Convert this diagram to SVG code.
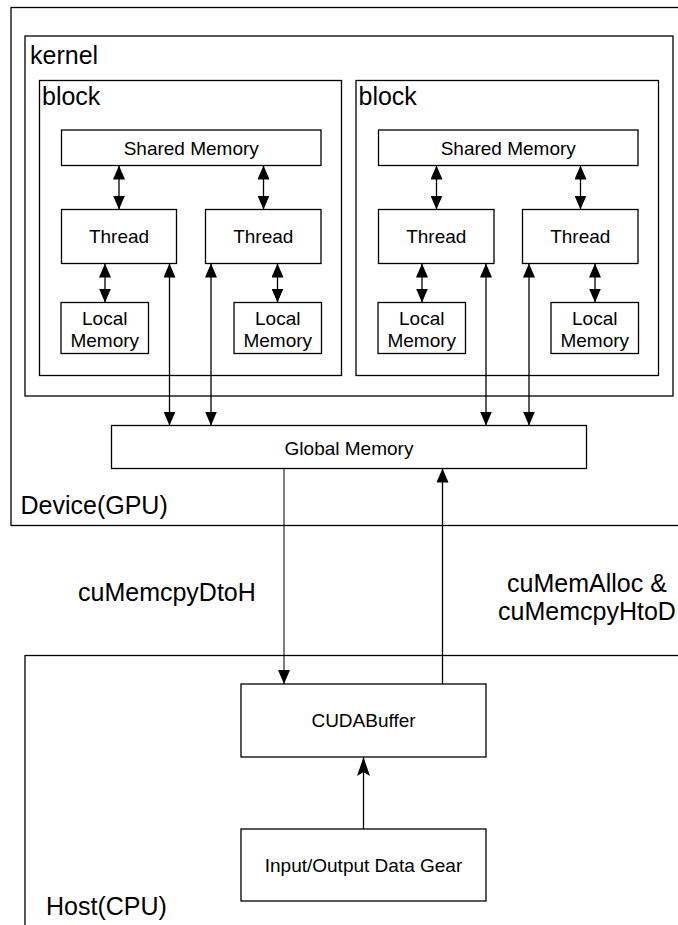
<svg xmlns="http://www.w3.org/2000/svg" width="678" height="925" viewBox="0 0 678 925">
<style>
  .box{fill:#fff;stroke:#000;stroke-width:1.3}
  .frame{fill:none;stroke:#000;stroke-width:1.3}
  .big{font-family:"Liberation Sans",Arial,Helvetica,sans-serif;font-size:25px;fill:#000}
  .lbl{font-family:"Liberation Sans",Arial,Helvetica,sans-serif;font-size:19px;fill:#000;text-anchor:middle}
  .edge{fill:none;stroke:#000;stroke-width:1.3}
  .thin{fill:none;stroke:#000;stroke-width:1}
</style>
<defs>
  <marker id="tri" markerUnits="userSpaceOnUse" markerWidth="14" markerHeight="12" refX="14" refY="6" orient="auto-start-reverse" viewBox="0 0 14 12">
    <path d="M0,0 L14,6 L0,12 z" fill="#000"/>
  </marker>
  <marker id="classic" markerUnits="userSpaceOnUse" markerWidth="19" markerHeight="13" refX="19" refY="6.5" orient="auto" viewBox="0 0 19 13">
    <path d="M0,0 L19,6.5 L0,13 L4,6.5 z" fill="#000"/>
  </marker>
</defs>
<rect width="678" height="925" fill="#fff"/>

<g id="device">
  <rect class="frame" x="11" y="7.5" width="680" height="518"/>
  <text class="big" x="20.5" y="514">Device(GPU)</text>
</g>
<g id="kernel">
  <rect class="frame" x="25" y="36" width="648" height="360"/>
  <text class="big" x="30" y="64">kernel</text>
</g>
<g id="block1">
  <rect class="frame" x="39.5" y="80.5" width="302" height="295"/>
  <text class="big" x="42" y="105">block</text>
</g>
<g id="block2">
  <rect class="frame" x="356" y="80.5" width="302.5" height="295"/>
  <text class="big" x="358.5" y="105">block</text>
</g>
<g id="host">
  <rect class="frame" x="25" y="655.5" width="670" height="290"/>
  <text class="big" x="46" y="915">Host(CPU)</text>
</g>

<g id="shared1"><rect class="box" x="61.5" y="130" width="259.5" height="35.5"/><text class="lbl" x="191.25" y="155">Shared Memory</text></g>
<g id="thread1a"><rect class="box" x="61.5" y="209.5" width="115" height="54"/><text class="lbl" x="119" y="243.3">Thread</text></g>
<g id="thread1b"><rect class="box" x="205.5" y="209.5" width="115.5" height="54"/><text class="lbl" x="263.3" y="243.3">Thread</text></g>
<g id="local1a"><rect class="box" x="61" y="302.5" width="87.5" height="51"/><text class="lbl" x="104.75" y="325">Local</text><text class="lbl" x="104.75" y="346.5">Memory</text></g>
<g id="local1b"><rect class="box" x="234" y="302.5" width="87.5" height="51"/><text class="lbl" x="277.75" y="325">Local</text><text class="lbl" x="277.75" y="346.5">Memory</text></g>

<g id="shared2"><rect class="box" x="378.5" y="130" width="259.5" height="35.5"/><text class="lbl" x="508.25" y="155">Shared Memory</text></g>
<g id="thread2a"><rect class="box" x="378.5" y="209.5" width="115.5" height="54"/><text class="lbl" x="436.25" y="243.3">Thread</text></g>
<g id="thread2b"><rect class="box" x="522.5" y="209.5" width="115.5" height="54"/><text class="lbl" x="580.25" y="243.3">Thread</text></g>
<g id="local2a"><rect class="box" x="378" y="302.5" width="87.5" height="51"/><text class="lbl" x="421.75" y="325">Local</text><text class="lbl" x="421.75" y="346.5">Memory</text></g>
<g id="local2b"><rect class="box" x="551" y="302.5" width="87.5" height="51"/><text class="lbl" x="594.75" y="325">Local</text><text class="lbl" x="594.75" y="346.5">Memory</text></g>

<g id="global"><rect class="box" x="111.5" y="425.5" width="475" height="43"/><text class="lbl" x="349" y="455">Global Memory</text></g>
<g id="cudabuffer"><rect class="box" x="241" y="684" width="245" height="73"/><text class="lbl" x="363.5" y="727.3">CUDABuffer</text></g>
<g id="iodata"><rect class="box" x="241" y="829" width="245" height="72"/><text class="lbl" x="363.5" y="872">Input/Output Data Gear</text></g>

<g id="connectors">
  <line class="edge" x1="119" y1="165.5" x2="119" y2="209.5" marker-start="url(#tri)" marker-end="url(#tri)"/>
  <line class="edge" x1="263.5" y1="165.5" x2="263.5" y2="209.5" marker-start="url(#tri)" marker-end="url(#tri)"/>
  <line class="edge" x1="105" y1="263.5" x2="105" y2="302.5" marker-start="url(#tri)" marker-end="url(#tri)"/>
  <line class="edge" x1="277.5" y1="263.5" x2="277.5" y2="302.5" marker-start="url(#tri)" marker-end="url(#tri)"/>
  <line class="edge" x1="436.5" y1="165.5" x2="436.5" y2="209.5" marker-start="url(#tri)" marker-end="url(#tri)"/>
  <line class="edge" x1="580.5" y1="165.5" x2="580.5" y2="209.5" marker-start="url(#tri)" marker-end="url(#tri)"/>
  <line class="edge" x1="422" y1="263.5" x2="422" y2="302.5" marker-start="url(#tri)" marker-end="url(#tri)"/>
  <line class="edge" x1="595" y1="263.5" x2="595" y2="302.5" marker-start="url(#tri)" marker-end="url(#tri)"/>
  <line class="edge" x1="169.5" y1="263.5" x2="169.5" y2="425.5" marker-start="url(#tri)" marker-end="url(#tri)"/>
  <line class="edge" x1="211" y1="263.5" x2="211" y2="425.5" marker-start="url(#tri)" marker-end="url(#tri)"/>
  <line class="edge" x1="486" y1="263.5" x2="486" y2="425.5" marker-start="url(#tri)" marker-end="url(#tri)"/>
  <line class="edge" x1="529" y1="263.5" x2="529" y2="425.5" marker-start="url(#tri)" marker-end="url(#tri)"/>
  <line class="thin" x1="284" y1="468.5" x2="284" y2="684" marker-end="url(#tri)"/>
  <line class="edge" x1="442.5" y1="684" x2="442.5" y2="468.5" marker-end="url(#tri)"/>
  <line class="edge" x1="363.5" y1="829" x2="363.5" y2="757" marker-end="url(#classic)"/>
  <text class="big" x="78" y="601">cuMemcpyDtoH</text>
  <text class="big" x="587" y="591.5" text-anchor="middle">cuMemAlloc &amp;</text>
  <text class="big" x="587" y="620" text-anchor="middle">cuMemcpyHtoD</text>
</g>
</svg>
